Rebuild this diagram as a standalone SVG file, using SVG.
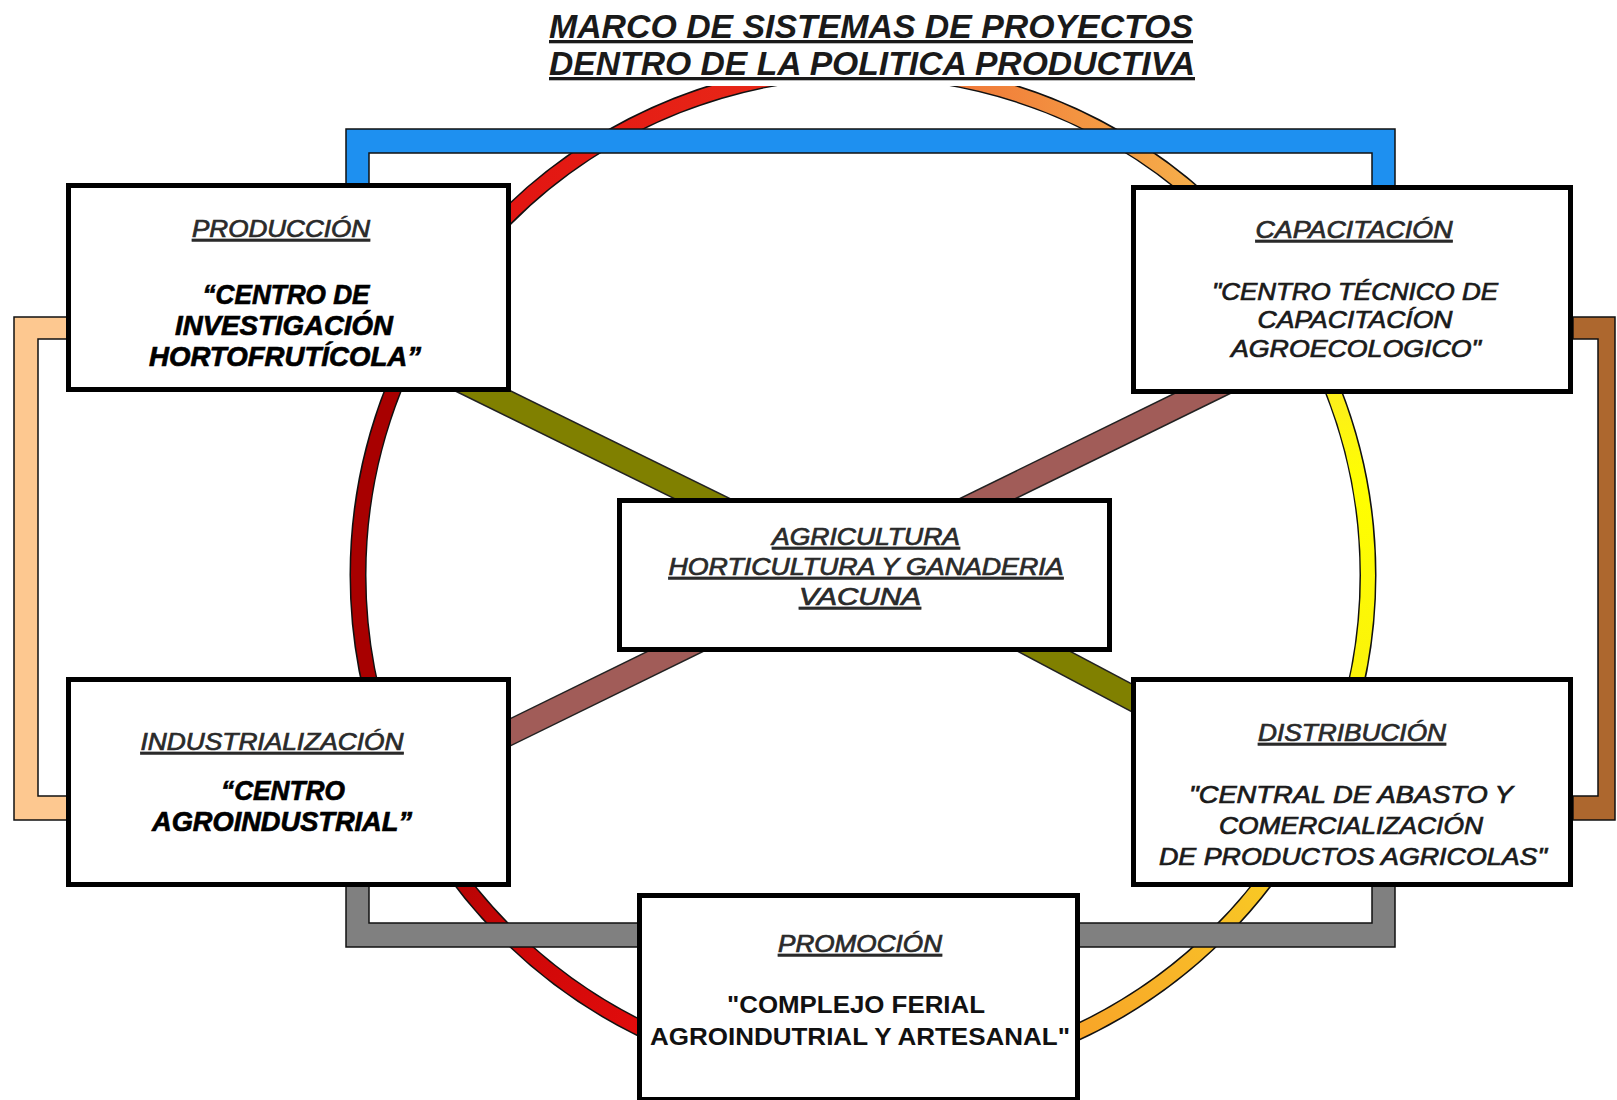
<svg xmlns="http://www.w3.org/2000/svg" width="1617" height="1100" viewBox="0 0 1617 1100">
<style>
.ring-bg{fill:none;stroke:#111;stroke-width:17}
.arc{fill:none;stroke-width:14}
.band-bg{stroke:#222;stroke-width:26}
.bar{stroke:#111;stroke-width:1.5;stroke-linejoin:miter}
.box{fill:#fff;stroke:#000;stroke-width:5}
.t{font-family:"Liberation Sans",Arial,sans-serif;font-weight:bold;text-anchor:middle}
.ttl{font-style:italic;font-size:33px;fill:#1a1a1a;text-decoration:underline}
.hd{font-style:italic;font-weight:normal;font-size:23px;fill:#2a2a2a;stroke:#2a2a2a;stroke-width:0.7;text-decoration:underline}
.heavy{font-style:italic;font-size:27px;fill:#000;stroke:#000;stroke-width:0.7}
.mid{font-style:italic;font-weight:normal;font-size:23px;fill:#1a1a1a;stroke:#1a1a1a;stroke-width:0.7}
.up{font-size:24px;fill:#111}
</style>
<defs>
<linearGradient id="gTop" gradientUnits="userSpaceOnUse" x1="440" y1="0" x2="1272" y2="0">
<stop offset="0" stop-color="#e01010"/><stop offset="0.4" stop-color="#e82818"/><stop offset="0.62" stop-color="#f07838"/><stop offset="1" stop-color="#f8c050"/>
</linearGradient>
<linearGradient id="gRight" gradientUnits="userSpaceOnUse" x1="0" y1="280" x2="0" y2="790">
<stop offset="0" stop-color="#f8d840"/><stop offset="0.4" stop-color="#ffff00"/><stop offset="1" stop-color="#f8ec10"/>
</linearGradient>
<linearGradient id="gBR" gradientUnits="userSpaceOnUse" x1="1320" y1="788" x2="1000" y2="1060">
<stop offset="0" stop-color="#f8d820"/><stop offset="0.5" stop-color="#f8b828"/><stop offset="1" stop-color="#f89a28"/>
</linearGradient>
<linearGradient id="gBL" gradientUnits="userSpaceOnUse" x1="405" y1="788" x2="760" y2="1070">
<stop offset="0" stop-color="#a00000"/><stop offset="0.45" stop-color="#d00808"/><stop offset="1" stop-color="#f01010"/>
</linearGradient>
</defs>
<rect width="1617" height="1100" fill="#fff"/>

<g id="connectors">
  <circle class="ring-bg" cx="863" cy="575" r="505"/>
  <path class="arc" stroke="url(#gTop)" d="M439.5,300 A505,505 0 0 1 1271.5,278.2"/>
  <path class="arc" stroke="url(#gRight)" d="M1271.5,278.2 A505,505 0 0 1 1320.7,788.4"/>
  <path class="arc" stroke="url(#gBR)" d="M1320.7,788.4 A505,505 0 0 1 863,1080"/>
  <path class="arc" stroke="url(#gBL)" d="M863,1080 A505,505 0 0 1 405.3,788.4"/>
  <path class="arc" stroke="#a80000" d="M405.3,788.4 A505,505 0 0 1 439.5,300"/>
  <line class="band-bg" x1="420" y1="360" x2="760" y2="527"/>
  <line x1="420" y1="360" x2="760" y2="527" stroke="#808000" stroke-width="23"/>
  <line class="band-bg" x1="900" y1="575" x2="1200" y2="734"/>
  <line x1="900" y1="575" x2="1200" y2="734" stroke="#808000" stroke-width="23"/>
  <line class="band-bg" x1="1240" y1="375" x2="470" y2="752"/>
  <line x1="1240" y1="375" x2="470" y2="752" stroke="#a15c58" stroke-width="23"/>
  <polygon class="bar" fill="#1e90f0" points="346,129 1395,129 1395,186 1372,186 1372,153 369,153 369,186 346,186"/>
  <polygon class="bar" fill="#fdc890" points="67,317 14,317 14,820 67,820 67,796 38,796 38,339 67,339"/>
  <polygon class="bar" fill="#ad672e" points="1573,317 1615,317 1615,820 1573,820 1573,796 1598,796 1598,339 1573,339"/>
  <polygon class="bar" fill="#808080" points="346,885 369,885 369,923 1372,923 1372,885 1395,885 1395,947 346,947"/>
</g>

<g id="title">
  <rect x="540" y="0" width="665" height="86" fill="#fff"/>
  <text class="t ttl" x="871" y="38" textLength="644" lengthAdjust="spacingAndGlyphs">MARCO DE SISTEMAS DE PROYECTOS</text>
  <text class="t ttl" x="872" y="75" textLength="646" lengthAdjust="spacingAndGlyphs">DENTRO DE LA POLITICA PRODUCTIVA</text>
</g>

<g id="produccion">
  <rect class="box" x="68.5" y="185.5" width="440" height="204"/>
  <text class="t hd" x="281" y="237" textLength="178" lengthAdjust="spacingAndGlyphs">PRODUCCIÓN</text>
  <text class="t heavy" x="286" y="304" textLength="167" lengthAdjust="spacingAndGlyphs">“CENTRO DE</text>
  <text class="t heavy" x="284" y="335" textLength="218" lengthAdjust="spacingAndGlyphs">INVESTIGACIÓN</text>
  <text class="t heavy" x="285" y="366" textLength="272" lengthAdjust="spacingAndGlyphs">HORTOFRUTÍCOLA”</text>
</g>

<g id="capacitacion">
  <rect class="box" x="1133.5" y="187.5" width="437" height="204"/>
  <text class="t hd" x="1354" y="238" textLength="197" lengthAdjust="spacingAndGlyphs">CAPACITACIÓN</text>
  <text class="t mid" x="1355" y="300" textLength="286" lengthAdjust="spacingAndGlyphs">"CENTRO TÉCNICO DE</text>
  <text class="t mid" x="1355" y="328" textLength="195" lengthAdjust="spacingAndGlyphs">CAPACITACÍON</text>
  <text class="t mid" x="1356" y="357" textLength="250" lengthAdjust="spacingAndGlyphs">AGROECOLOGICO"</text>
</g>

<g id="agricultura">
  <rect class="box" x="619.5" y="500.5" width="490" height="149"/>
  <text class="t hd" x="866" y="545" font-size="24" textLength="188" lengthAdjust="spacingAndGlyphs">AGRICULTURA</text>
  <text class="t hd" x="866" y="575" font-size="24" textLength="395" lengthAdjust="spacingAndGlyphs">HORTICULTURA Y GANADERIA</text>
  <text class="t hd" x="860" y="605" font-size="24" textLength="122" lengthAdjust="spacingAndGlyphs">VACUNA</text>
</g>

<g id="industrializacion">
  <rect class="box" x="68.5" y="679.5" width="440" height="205"/>
  <text class="t hd" x="272" y="750" textLength="263" lengthAdjust="spacingAndGlyphs">INDUSTRIALIZACIÓN</text>
  <text class="t heavy" x="283" y="800" textLength="124" lengthAdjust="spacingAndGlyphs">“CENTRO</text>
  <text class="t heavy" x="282" y="831" textLength="260" lengthAdjust="spacingAndGlyphs">AGROINDUSTRIAL”</text>
</g>

<g id="distribucion">
  <rect class="box" x="1133.5" y="679.5" width="437" height="205"/>
  <text class="t hd" x="1352" y="741" textLength="188" lengthAdjust="spacingAndGlyphs">DISTRIBUCIÓN</text>
  <text class="t mid" x="1351" y="803" textLength="324" lengthAdjust="spacingAndGlyphs">"CENTRAL DE ABASTO Y</text>
  <text class="t mid" x="1351" y="834" textLength="264" lengthAdjust="spacingAndGlyphs">COMERCIALIZACIÓN</text>
  <text class="t mid" x="1353" y="865" textLength="388" lengthAdjust="spacingAndGlyphs">DE PRODUCTOS AGRICOLAS"</text>
</g>

<g id="promocion">
  <rect class="box" x="639.5" y="895.5" width="438" height="204"/>
  <text class="t hd" x="860" y="952" textLength="164" lengthAdjust="spacingAndGlyphs">PROMOCIÓN</text>
  <text class="t up" x="856" y="1013" textLength="258" lengthAdjust="spacingAndGlyphs">"COMPLEJO FERIAL</text>
  <text class="t up" x="860" y="1045" textLength="420" lengthAdjust="spacingAndGlyphs">AGROINDUTRIAL Y ARTESANAL"</text>
</g>
</svg>
